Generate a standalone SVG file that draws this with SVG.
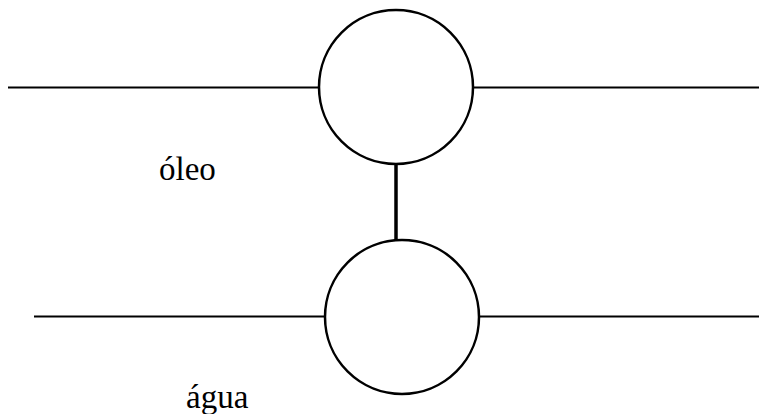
<svg xmlns="http://www.w3.org/2000/svg" width="759" height="414" viewBox="0 0 759 414">
<style>
.ln{stroke:#000;stroke-width:2;fill:none}
.c{stroke:#000;stroke-width:2.5;fill:#fff}
.t{font-family:"Liberation Serif",serif;font-size:33px;fill:#000}
</style>
<rect width="759" height="414" fill="#fff"/>
<g id="connectors">
<line class="ln" x1="8" y1="87.5" x2="319" y2="87.5"/>
<line class="ln" x1="474" y1="87.5" x2="759" y2="87.5"/>
<line class="ln" x1="34" y1="316.5" x2="325" y2="316.5"/>
<line class="ln" x1="479" y1="316.5" x2="759" y2="316.5"/>
<line x1="396" y1="164" x2="396" y2="240" stroke="#000" stroke-width="3.5"/>
</g>
<g id="top-circle"><circle class="c" cx="396" cy="87" r="77"/></g>
<g id="bottom-circle"><circle class="c" cx="402" cy="317" r="77"/></g>
<g id="oleo"><text class="t" x="159" y="180">óleo</text></g>
<g id="agua"><text class="t" x="186" y="408">água</text></g>
</svg>
